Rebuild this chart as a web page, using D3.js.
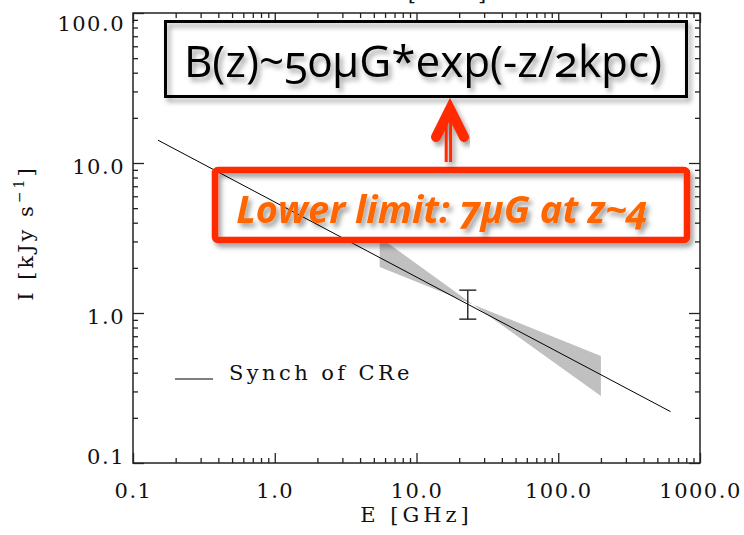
<!DOCTYPE html>
<html>
<head>
<meta charset="utf-8">
<script src="https://cdn.jsdelivr.net/npm/d3@7"></script>
<style>
  body { margin: 0; background: #fff; }
  svg { display: block; }
  .serif { font-family: "DejaVu Serif", serif; fill: #111; }
</style>
</head>
<body>
<svg id="chart" width="744" height="535"></svg>
<script>
// Synchrotron spectrum of cosmic-ray electrons
const lineE = [0.15, 620];          // GHz
const lineI = [14.2, 0.22];         // kJy s^-1
const bandE = [5.5, 25, 200];       // uncertainty bow-tie
const bandHi = [3.2, 1.14, 0.517];
const bandLo = [2.03, 1.14, 0.28];
const errE = [23];                  // measured point
const errLo = [0.91];
const errHi = [1.42];
const xTicks = [0.1, 1, 10, 100, 1000];
const xTickLabels = ["0.1", "1.0", "10.0", "100.0", "1000.0"];
const yTicks = [0.1, 1, 10, 100];
const yTickLabels = ["0.1", "1.0", "10.0", "100.0"];
const legendLabel = "Synch of CRe";
const formulaText = "B(z)~50μG*exp(-z/2kpc)";
const limitText = "Lower limit: 7μG at z~4";

const svg = d3.select("#chart");
const W = 744, H = 535;
const m = { left: 133, right: 44, top: 13, bottom: 72 };
const x0 = m.left, x1 = W - m.right, y0 = m.top, y1 = H - m.bottom;

const x = d3.scaleLog().domain([0.1, 1000]).range([x0, x1]);
const y = d3.scaleLog().domain([0.1, 100]).range([y1, y0]);

function minors(dom) {
  const out = [];
  for (let p = Math.round(Math.log10(dom[0])); p < Math.round(Math.log10(dom[1])); p++)
    for (let k = 2; k < 10; k++) out.push(+(k * Math.pow(10, p)).toPrecision(3));
  return out;
}

// soft drop shadow used by the annotations
const defs = svg.append("defs");
const f = defs.append("filter").attr("id", "shadow")
  .attr("x", "-20%").attr("y", "-40%").attr("width", "140%").attr("height", "180%");
f.append("feDropShadow").attr("dx", 3).attr("dy", 4).attr("stdDeviation", 2.5)
  .attr("flood-color", "#000").attr("flood-opacity", 0.38);

// uncertainty band
const bandData = bandE.map((e, i) => ({ e, hi: bandHi[i], lo: bandLo[i] }));
svg.append("path").datum(bandData)
  .attr("fill", "#c0c0c0")
  .attr("d", d3.area().x(d => x(d.e)).y0(d => y(d.lo)).y1(d => y(d.hi)));

// model line
svg.append("path").datum(lineE.map((e, i) => [e, lineI[i]]))
  .attr("fill", "none").attr("stroke", "#000").attr("stroke-width", 1)
  .attr("d", d3.line().x(d => x(d[0])).y(d => y(d[1])));

// error bar
const eb = svg.append("g").attr("stroke", "#222").attr("stroke-width", 1.4);
errE.forEach((e, i) => {
  const cx = x(e);
  eb.append("line").attr("x1", cx).attr("x2", cx).attr("y1", y(errLo[i])).attr("y2", y(errHi[i]));
  eb.append("line").attr("x1", cx - 8.5).attr("x2", cx + 8.5).attr("y1", y(errLo[i])).attr("y2", y(errLo[i]));
  eb.append("line").attr("x1", cx - 8.5).attr("x2", cx + 8.5).attr("y1", y(errHi[i])).attr("y2", y(errHi[i]));
});

// axes: inward ticks on all four sides
function styleAxis(g) {
  g.select(".domain").remove();
  g.selectAll(".tick line").attr("stroke", "#222").attr("stroke-width", 1.3);
}
const fontStyle = sel => sel.attr("class", "serif")
  .style("font-size", "21px").style("letter-spacing", "1.5px").attr("fill", "#111");

const gB = svg.append("g").attr("transform", `translate(0,${y1})`)
  .call(d3.axisBottom(x).tickValues(xTicks).tickSize(-10).tickFormat((d, i) => xTickLabels[i]))
  .call(styleAxis);
gB.selectAll("text").call(fontStyle).attr("y", 35).attr("dy", null).attr("font-family", null).attr("font-size", null);
svg.append("g").attr("transform", `translate(0,${y1})`)
  .call(d3.axisBottom(x).tickValues(minors(x.domain())).tickSize(-5).tickFormat("")).call(styleAxis);
svg.append("g").attr("transform", `translate(0,${y0})`)
  .call(d3.axisTop(x).tickValues(xTicks).tickSize(-10).tickFormat("")).call(styleAxis);
svg.append("g").attr("transform", `translate(0,${y0})`)
  .call(d3.axisTop(x).tickValues(minors(x.domain())).tickSize(-5).tickFormat("")).call(styleAxis);

const gL = svg.append("g").attr("transform", `translate(${x0},0)`)
  .call(d3.axisLeft(y).tickValues(yTicks).tickSize(-11).tickFormat((d, i) => yTickLabels[i]))
  .call(styleAxis);
gL.selectAll("text").call(fontStyle)
  .attr("font-family", null).attr("font-size", null)
  .attr("x", -8).attr("dy", null)
  .attr("y", d => Math.min(Math.max(y(d) + 10, y0 + 17), y1) - y(d));
svg.append("g").attr("transform", `translate(${x0},0)`)
  .call(d3.axisLeft(y).tickValues(minors(y.domain())).tickSize(-5).tickFormat("")).call(styleAxis);
svg.append("g").attr("transform", `translate(${x1},0)`)
  .call(d3.axisRight(y).tickValues(yTicks).tickSize(-11).tickFormat("")).call(styleAxis);
svg.append("g").attr("transform", `translate(${x1},0)`)
  .call(d3.axisRight(y).tickValues(minors(y.domain())).tickSize(-5).tickFormat("")).call(styleAxis);

// frame
svg.append("rect").attr("x", x0).attr("y", y0).attr("width", x1 - x0).attr("height", y1 - y0)
  .attr("fill", "none").attr("stroke", "#222").attr("stroke-width", 1.5);

// axis titles
svg.append("text").call(fontStyle).style("letter-spacing", "4px")
  .attr("x", (x0 + x1) / 2).attr("y", 522).attr("text-anchor", "middle").text("E [GHz]");
svg.append("text").call(fontStyle).style("letter-spacing", "4px")
  .attr("x", 434).attr("y", 0).attr("text-anchor", "middle").text("E [GHz]");
const yt = svg.append("text").call(fontStyle).style("letter-spacing", "3px")
  .attr("transform", "translate(33,233) rotate(-90)").attr("text-anchor", "middle");
yt.append("tspan").text("I [kJy s");
yt.append("tspan").attr("dy", -9).style("font-size", "14px").text("−1");
yt.append("tspan").attr("dy", 9).text("]");

// legend
svg.append("line").attr("x1", 175).attr("x2", 213).attr("y1", 379).attr("y2", 379)
  .attr("stroke", "#000").attr("stroke-width", 1);
svg.append("text").call(fontStyle).style("letter-spacing", "3.4px")
  .attr("x", 229).attr("y", 380).text(legendLabel);

// annotation: field model box
const ann = svg.append("g");
ann.append("rect").attr("x", 165.5).attr("y", 21.5).attr("width", 521).attr("height", 75)
  .attr("fill", "none").attr("stroke", "#000").attr("stroke-width", 3).attr("filter", "url(#shadow)");
ann.append("text").attr("x", 423).attr("y", 77).attr("text-anchor", "middle")
  .style("font-family", "'Open Sans', sans-serif").style("font-size", "44px")
  .style("font-variant-numeric", "oldstyle-nums").style("font-feature-settings", "'onum'")
  .attr("fill", "#000").attr("filter", "url(#shadow)").text(formulaText);

// arrow
const arr = svg.append("g").attr("filter", "url(#shadow)");
arr.append("path").attr("d", "M436,137 L450,109 L464,137")
  .attr("fill", "none").attr("stroke", "#ff2a00").attr("stroke-width", 10)
  .attr("stroke-linecap", "round").attr("stroke-linejoin", "miter");
arr.append("line").attr("x1", 446.2).attr("x2", 446.2).attr("y1", 118).attr("y2", 162)
  .attr("stroke", "#ff2a00").attr("stroke-width", 3);
arr.append("line").attr("x1", 450.6).attr("x2", 450.6).attr("y1", 118).attr("y2", 162)
  .attr("stroke", "#ff2a00").attr("stroke-width", 3);

// annotation: lower limit box
ann.append("rect").attr("x", 215).attr("y", 170).attr("width", 472).attr("height", 70).attr("rx", 3)
  .attr("fill", "none").attr("stroke", "#ff2a00").attr("stroke-width", 6.5).attr("filter", "url(#shadow)");
ann.append("text").attr("x", 442).attr("y", 222.5).attr("text-anchor", "middle")
  .style("font-family", "'Open Sans', sans-serif").style("font-size", "38px")
  .style("font-style", "italic").style("font-weight", "bold")
  .style("font-variant-numeric", "oldstyle-nums").style("font-feature-settings", "'onum'")
  .attr("fill", "#ff6600").attr("filter", "url(#shadow)").text(limitText);
</script>
</body>
</html>
